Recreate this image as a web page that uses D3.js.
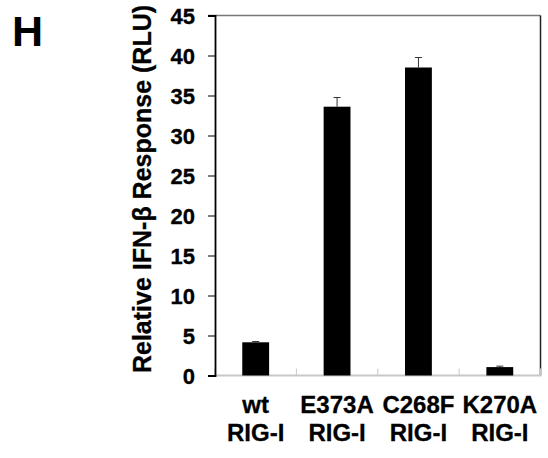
<!DOCTYPE html>
<html>
<head>
<meta charset="utf-8">
<script src="https://cdn.jsdelivr.net/npm/d3@7"></script>
<style>
  html, body { margin: 0; padding: 0; background: #fff; }
  svg { display: block; }
  text { font-family: "Liberation Sans", Arial, sans-serif; font-weight: bold; fill: #000; }
</style>
</head>
<body>
<svg id="chart" width="548" height="458"></svg>
<script>
// Luciferase reporter readout per RIG-I construct
const groups = ["wt", "E373A", "C268F", "K270A"];
const groupSub = ["RIG-I", "RIG-I", "RIG-I", "RIG-I"];
const response = [4.15, 33.6, 38.5, 1.05];
const responseErr = [0.1, 1.15, 1.25, 0.12];
const yTicks = [0, 5, 10, 15, 20, 25, 30, 35, 40, 45];

const svg = d3.select("#chart");
const plot = { left: 215, right: 540.5, top: 15.5, bottom: 375.5 };

const x = d3.scaleBand().domain(groups).range([plot.left, plot.right]).paddingInner(0).paddingOuter(0);
const y = d3.scaleLinear().domain([0, 45]).range([plot.bottom, plot.top]);
const barW = x.bandwidth() * 0.33;

// panel letter
svg.append("text").attr("x", 12).attr("y", 46).style("font-size", "43px").text("H");

// frame: top and right edges
svg.append("line").attr("x1", 208).attr("x2", plot.right).attr("y1", plot.top).attr("y2", plot.top)
  .attr("stroke", "#777").attr("stroke-width", 1.5);
svg.append("line").attr("x1", plot.right).attr("x2", plot.right).attr("y1", plot.top).attr("y2", plot.bottom)
  .attr("stroke", "#222").attr("stroke-width", 1.5);

// x axis (light grey baseline with inward ticks at category boundaries)
const xAxisG = svg.append("g").attr("transform", `translate(0,${plot.bottom})`);
xAxisG.append("line").attr("x1", plot.left).attr("x2", plot.right + 1).attr("y1", 0).attr("y2", 0)
  .attr("stroke", "#c8c8c8").attr("stroke-width", 2);
xAxisG.selectAll("line.sep").data(groups.map(g => x(g)).concat([plot.right]))
  .enter().append("line").attr("class", "sep")
  .attr("x1", d => d).attr("x2", d => d).attr("y1", 0).attr("y2", -7)
  .attr("stroke", "#c8c8c8").attr("stroke-width", 1);

// bars
svg.selectAll("rect.bar").data(groups).enter().append("rect").attr("class", "bar")
  .attr("x", (d) => x(d) + x.bandwidth() / 2 - barW / 2)
  .attr("width", barW)
  .attr("y", (d, i) => y(response[i]))
  .attr("height", (d, i) => y(0) - y(response[i]))
  .attr("fill", "#000");

// upper error bars
const eb = svg.selectAll("g.err").data(groups).enter().append("g").attr("class", "err");
eb.append("line")
  .attr("x1", d => x(d) + x.bandwidth() / 2).attr("x2", d => x(d) + x.bandwidth() / 2)
  .attr("y1", (d, i) => y(response[i])).attr("y2", (d, i) => y(response[i] + responseErr[i]))
  .attr("stroke", "#333").attr("stroke-width", 1);
eb.append("line")
  .attr("x1", d => x(d) + x.bandwidth() / 2 - 3.5).attr("x2", d => x(d) + x.bandwidth() / 2 + 3.5)
  .attr("y1", (d, i) => y(response[i] + responseErr[i])).attr("y2", (d, i) => y(response[i] + responseErr[i]))
  .attr("stroke", "#333").attr("stroke-width", 1);

// y axis
const yAxis = d3.axisLeft(y).tickValues(yTicks).tickSize(7).tickPadding(13);
const yAxisG = svg.append("g").attr("transform", `translate(${plot.left},0)`).call(yAxis);
yAxisG.select(".domain").attr("stroke", "#000").attr("stroke-width", 1.8);
yAxisG.selectAll(".tick line").attr("stroke", "#000").attr("stroke-width", 1);
yAxisG.selectAll(".tick text")
  .style("font-size", "22px").style("font-family", "'Liberation Sans', Arial, sans-serif")
  .style("font-weight", "bold").attr("fill", "#000").attr("dy", "0.36em")
  .attr("stroke", "#000").attr("stroke-width", 0.3);

// y axis title
svg.append("text")
  .attr("transform", `translate(151, 189) rotate(-90)`)
  .attr("text-anchor", "middle")
  .style("font-size", "25px")
  .attr("stroke", "#000").attr("stroke-width", 0.3)
  .text("Relative IFN-\u03B2 Response (RLU)");

// category labels
const lab = svg.selectAll("g.lab").data(groups).enter().append("g").attr("class", "lab");
lab.append("text").attr("x", d => x(d) + x.bandwidth() / 2).attr("y", 413)
  .attr("text-anchor", "middle").style("font-size", "24px")
  .attr("stroke", "#000").attr("stroke-width", 0.3).text(d => d);
lab.append("text").attr("x", d => x(d) + x.bandwidth() / 2).attr("y", 441)
  .attr("text-anchor", "middle").style("font-size", "24px")
  .attr("stroke", "#000").attr("stroke-width", 0.3).text((d, i) => groupSub[i]);
</script>
</body>
</html>
